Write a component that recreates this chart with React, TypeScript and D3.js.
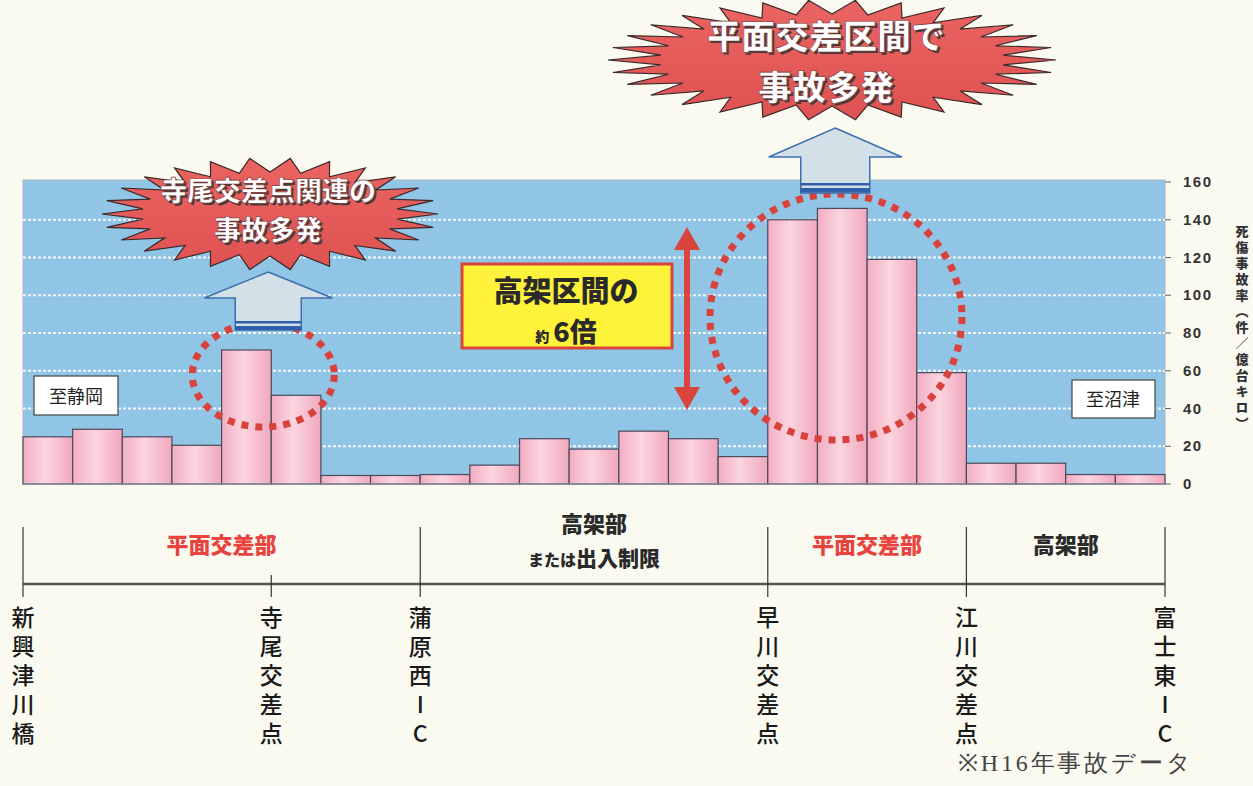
import React from 'react';
import * as d3 from 'd3';

const barIds = ['1','2','3','4','5','6','7','8','9','10','11','12','13','14','15','16','17','18','19','20','21','22','23'];
const barValues = [25, 29, 25, 20.5, 71, 47, 4.5, 4.5, 5, 10, 24, 18.5, 28, 24, 14.5, 140, 146, 119, 59, 11, 11, 5, 5];
const yTicks = [0, 20, 40, 60, 80, 100, 120, 140, 160];
const stationNames = ['新興津川橋', '寺尾交差点', '蒲原西IC', '早川交差点', '江川交差点', '富士東IC'];
const stationIdx = [0, 5, 8, 15, 19, 23];
const sectionBounds = [0, 8, 15, 19, 23];
const sectionLabels = ['平面交差部', '高架部', '平面交差部', '高架部'];
const sectionSubLabels = ['', 'または出入制限', '', ''];
const sectionRed = [true, false, true, false];
const yTitle = '死傷事故率（件／億台キロ）';

const W = 1253, H = 786;
const PL = 23, PR = 1165, PT = 182, PB = 484;
const JP = '"Noto Sans CJK JP", "Noto Sans", sans-serif';

function burstPath(cx: number, cy: number, rxO: number, ryO: number, rxI: number, ryI: number, n: number) {
  const pts = d3.range(n * 2).map((k) => {
    const a = (Math.PI * k) / n;
    const o = k % 2 === 0;
    return [cx + Math.cos(a) * (o ? rxO : rxI), cy + Math.sin(a) * (o ? ryO : ryI)] as [number, number];
  });
  return (d3.line()(pts) || '') + 'Z';
}

function upArrow(cx: number, top: number, headBase: number, bottom: number, headW: number, shaftW: number) {
  const p: [number, number][] = [
    [cx, top], [cx + headW / 2, headBase], [cx + shaftW / 2, headBase], [cx + shaftW / 2, bottom],
    [cx - shaftW / 2, bottom], [cx - shaftW / 2, headBase], [cx - headW / 2, headBase],
  ];
  return (d3.line()(p) || '') + 'Z';
}

export default function App() {
  const x = d3.scaleBand<string>().domain(barIds).range([PL, PR]).padding(0);
  const y = d3.scaleLinear().domain([0, 160]).range([PB, PT]);
  const bx = d3.scaleLinear().domain([0, barIds.length]).range([PL, PR]);

  const smallArrowX = bx(5) - 3;
  const bigArrowX = x('17')! + x.bandwidth() / 2 - 7;

  const burstText = (lines: string[], cx: number, ys: number[], size: number) => (
    <g fontFamily={JP} fontWeight={900} fontSize={size} textAnchor="middle">
      {lines.map((t, i) => (
        <g key={i}>
          <text x={cx + 2} y={ys[i] + 2} fill="#4a3a3a">{t}</text>
          <text x={cx} y={ys[i]} fill="#ffffff" stroke="#7a3030" strokeWidth={0.6}>{t}</text>
        </g>
      ))}
    </g>
  );

  const vert: React.CSSProperties = { writingMode: 'vertical-rl' as any, textOrientation: 'upright' as any };

  return (
    <svg width={W} height={H} style={{ position: 'absolute', left: 0, top: 0, background: '#fbfaf1' }}>
      <defs>
        <linearGradient id="barGrad" x1="0" x2="1" y1="0" y2="0">
          <stop offset="0" stopColor="#f3adc3" />
          <stop offset="0.45" stopColor="#fbd5e0" />
          <stop offset="1" stopColor="#f1a7be" />
        </linearGradient>
        <linearGradient id="burstGrad" x1="0" x2="0" y1="0" y2="1">
          <stop offset="0" stopColor="#ea6461" />
          <stop offset="1" stopColor="#df5251" />
        </linearGradient>
      </defs>
      <rect x={0} y={0} width={W} height={H} fill="#fbfaf1" />

      {/* plot background */}
      <rect x={PL} y={PT - 2} width={PR - PL} height={PB - PT + 2} fill="#90c5e6" stroke="#a9b7c0" strokeWidth={1} />
      {yTicks.filter((t) => t > 0 && t < 160).map((t) => (
        <line key={t} x1={PL} x2={PR} y1={y(t)} y2={y(t)} stroke="#ffffff" strokeWidth={1.8} strokeDasharray="3 2" opacity={0.9} />
      ))}

      {/* bars */}
      {barValues.map((v, i) => (
        <rect key={i} x={x(barIds[i])} y={y(v)} width={x.bandwidth()} height={y(0) - y(v)}
          fill="url(#barGrad)" stroke="#4a4a5a" strokeWidth={1.2} />
      ))}
      <line x1={PL} x2={PR} y1={PB} y2={PB} stroke="#8a9aa8" strokeWidth={1} />

      {/* right axis */}
      {yTicks.map((t) => (
        <g key={t}>
          <line x1={PR} x2={PR + 6} y1={y(t)} y2={y(t)} stroke="#666" strokeWidth={1} />
          <text x={PR + 18} y={y(t) + 5} fontFamily='"Liberation Sans", Arial, sans-serif' fontWeight={700}
            fontSize={15} letterSpacing={1.5} fill="#333">{t}</text>
        </g>
      ))}
      <text x={1242} y={225} fontFamily={JP} fontWeight={900} fontSize={13} fill="#333" letterSpacing={3}
        style={{ writingMode: 'vertical-rl' as any }}>{yTitle}</text>

      {/* direction boxes */}
      <rect x={34} y={376} width={84} height={39} fill="#fff" stroke="#444" strokeWidth={1.2} />
      <text x={76} y={403} textAnchor="middle" fontFamily={JP} fontSize={18} fill="#222">至静岡</text>
      <rect x={1072} y={380} width={83} height={38} fill="#fff" stroke="#444" strokeWidth={1.2} />
      <text x={1113} y={406} textAnchor="middle" fontFamily={JP} fontSize={18} fill="#222">至沼津</text>

      {/* dotted circles */}
      <ellipse cx={bx(5) - 8} cy={375} rx={71} ry={52} fill="none" stroke="#d9413d" strokeWidth={7} strokeDasharray="7 7" />
      <ellipse cx={836} cy={317} rx={126} ry={123} fill="none" stroke="#d9413d" strokeWidth={7} strokeDasharray="7 7" />

      {/* up arrows */}
      <path d={upArrow(smallArrowX, 272, 298, 330, 128, 66)} fill="#d3e0e8" stroke="#3d6fae" strokeWidth={1.5} />
      <rect x={smallArrowX - 33} y={321} width={66} height={2.5} fill="#2f5fa8" />
      <rect x={smallArrowX - 33} y={326} width={66} height={4} fill="#2f5fa8" />
      <path d={upArrow(bigArrowX, 128, 157, 193, 133, 69)} fill="#d3e0e8" stroke="#3d6fae" strokeWidth={1.5} />
      <rect x={bigArrowX - 34.5} y={183} width={69} height={2.5} fill="#2f5fa8" />
      <rect x={bigArrowX - 34.5} y={188} width={69} height={4.5} fill="#2f5fa8" />

      {/* bursts */}
      <path d={burstPath(270, 214, 168, 56, 128, 42, 26)} fill="url(#burstGrad)" stroke="#3a2a2a" strokeWidth={1.2} />
      {burstText(['寺尾交差点関連の', '事故多発'], 268, [201, 240], 27)}
      <path d={burstPath(832, 60, 224, 60, 172, 46, 30)} fill="url(#burstGrad)" stroke="#3a2a2a" strokeWidth={1.2} />
      {burstText(['平面交差区間で', '事故多発'], 826, [49, 100], 34)}

      {/* yellow box */}
      <rect x={462} y={264} width={210} height={84} fill="#fff23a" stroke="#d9443c" strokeWidth={3} />
      <text x={566} y={302} textAnchor="middle" fontFamily={JP} fontWeight={900} fontSize={29} fill="#2a2a2a">高架区間の</text>
      <text x={566} y={342} textAnchor="middle" fontFamily={JP} fontWeight={900} fill="#2a2a2a">
        <tspan fontSize={14}>約</tspan>
        <tspan fontSize={27} dx={4}>6倍</tspan>
      </text>

      {/* red double arrow */}
      <g fill="#d9443c">
        <rect x={684} y={245} width={6} height={148} />
        <path d={(d3.line()([[687, 227], [700, 250], [674, 250]]) || '') + 'Z'} />
        <path d={(d3.line()([[687, 410], [700, 387], [674, 387]]) || '') + 'Z'} />
      </g>

      {/* bottom section diagram */}
      <line x1={PL} x2={PR} y1={584} y2={584} stroke="#555" strokeWidth={2.5} />
      {sectionBounds.map((b, i) => (
        <line key={i} x1={bx(b)} x2={bx(b)} y1={527} y2={597} stroke="#333" strokeWidth={1.2} />
      ))}
      <line x1={bx(5)} x2={bx(5)} y1={575} y2={597} stroke="#333" strokeWidth={1.2} />
      {sectionLabels.map((s, i) => {
        const cx = (bx(sectionBounds[i]) + bx(sectionBounds[i + 1])) / 2;
        const sub = sectionSubLabels[i];
        return (
          <g key={i} fontFamily={JP} fontWeight={900} textAnchor="middle" fill={sectionRed[i] ? '#e8433f' : '#2a2a2a'}>
            <text x={cx} y={sub ? 532 : 553} fontSize={22}>{s}</text>
            {sub && (
              <text x={cx} y={566}>
                <tspan fontSize={16}>{sub.slice(0, 3)}</tspan>
                <tspan fontSize={21}>{sub.slice(3)}</tspan>
              </text>
            )}
          </g>
        );
      })}
      {stationNames.map((s, i) => (
        <text key={i} x={bx(stationIdx[i])} y={606} fontFamily={JP} fontWeight={500} fontSize={23} fill="#1a1a1a"
          letterSpacing={6} style={vert}>{s}</text>
      ))}
      <text x={958} y={771} fontFamily='"Liberation Serif", "DejaVu Serif", serif' fontSize={24} letterSpacing={2.8} fill="#444">※H16年事故データ</text>
    </svg>
  );
}
